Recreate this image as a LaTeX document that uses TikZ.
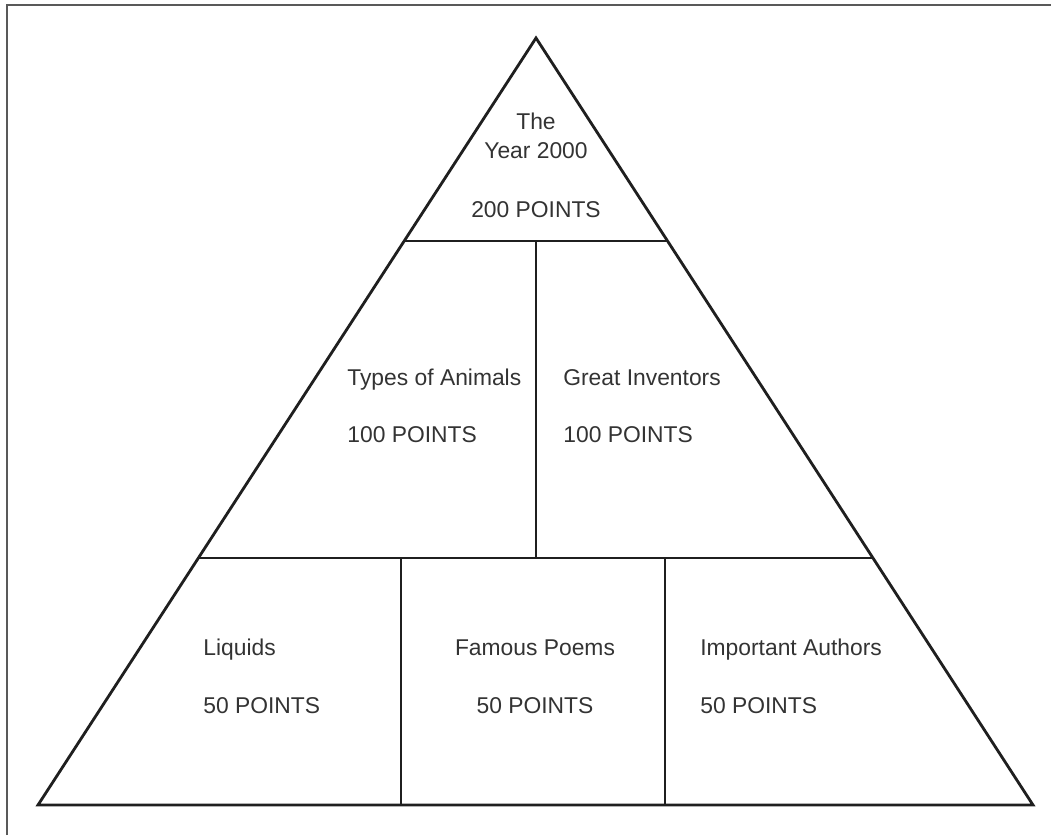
\documentclass[tikz,border=0pt]{standalone}
\usepackage{fontspec}
\setmainfont{Liberation Sans}
\usetikzlibrary{calc}

\begin{document}
\begin{tikzpicture}[x=0.02cm,y=-0.02cm]
    \tikzstyle{edge}=[line width=1.6pt,draw=black!88,line join=miter]
    \tikzstyle{txt}=[inner sep=0pt,font=\fontsize{13}{15}\selectfont,text=black!80]

    \useasboundingbox (0,0) rectangle (1051,835);
    \draw[line width=0.9pt,draw=black!65] (7,835) -- (7,5) -- (1051,5);

    \coordinate (top) at (536,38);
    \coordinate (bl) at (38,805);
    \coordinate (br) at (1033,805);

    \coordinate (l1) at ($(top)!0.2647!(bl)$);
    \coordinate (r1) at ($(top)!0.2647!(br)$);
    \coordinate (l2) at ($(top)!0.678!(bl)$);
    \coordinate (r2) at ($(top)!0.678!(br)$);
    \coordinate (m1) at (536,241);
    \coordinate (m2) at (536,558);
    \coordinate (a2) at (401,558);
    \coordinate (a3) at (401,805);
    \coordinate (b2) at (665,558);
    \coordinate (b3) at (665,805);

    \draw[edge] (top) -- (bl) -- (br) -- cycle;
    \draw[edge] (l1) -- (r1);
    \draw[edge] (l2) -- (r2);
    \draw[edge] (m1) -- (m2);
    \draw[edge] (a2) -- (a3);
    \draw[edge] (b2) -- (b3);

    % top block
    \node (the)[txt,anchor=base] at (536,129) {The};
    \node (year)[txt,anchor=base] at (536,158) {Year 2000};
    \node (p200)[txt,anchor=base] at (536,217) {200 POINTS};

    % middle row
    \node (animals)[txt,anchor=base west] at (347,385) {Types of Animals};
    \node (p100a)[txt,anchor=base west] at (347,442) {100 POINTS};
    \node (inventors)[txt,anchor=base west] at (563,385) {Great Inventors};
    \node (p100b)[txt,anchor=base west] at (563,442) {100 POINTS};

    % bottom row
    \node (liquids)[txt,anchor=base west] at (203,655) {Liquids};
    \node (p50a)[txt,anchor=base west] at (203,713) {50 POINTS};
    \node (poems)[txt,anchor=base] at (535,655) {Famous Poems};
    \node (p50b)[txt,anchor=base] at (535,713) {50 POINTS};
    \node (authors)[txt,anchor=base west] at (700,655) {Important Authors};
    \node (p50c)[txt,anchor=base west] at (700,713) {50 POINTS};
\end{tikzpicture}
\end{document}
